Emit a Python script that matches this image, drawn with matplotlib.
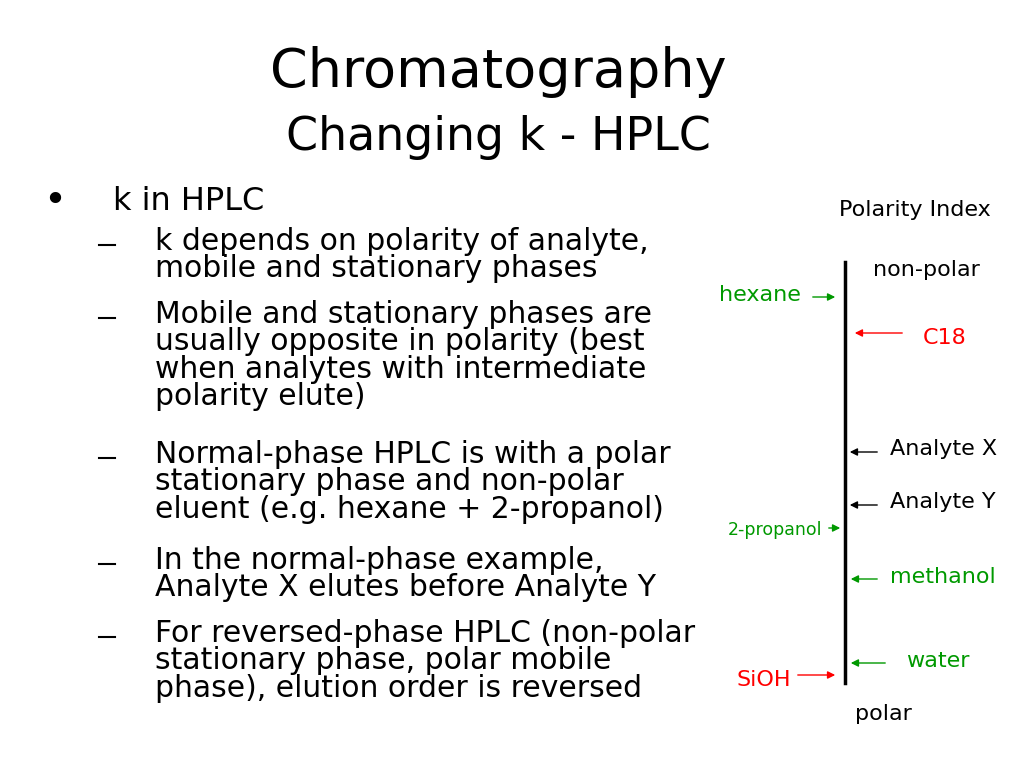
import matplotlib.pyplot as plt

title = "Chromatography"
subtitle = "Changing k - HPLC"
bullet = "k in HPLC"
sub_items = [
    "k depends on polarity of analyte,\nmobile and stationary phases",
    "Mobile and stationary phases are\nusually opposite in polarity (best\nwhen analytes with intermediate\npolarity elute)",
    "Normal-phase HPLC is with a polar\nstationary phase and non-polar\neluent (e.g. hexane + 2-propanol)",
    "In the normal-phase example,\nAnalyte X elutes before Analyte Y",
    "For reversed-phase HPLC (non-polar\nstationary phase, polar mobile\nphase), elution order is reversed",
]
sub_y = [245, 318, 458, 564, 637]

# right diagram: label, label x, label y, arrow start x, arrow end x, arrow y, colour, size, ha
marker_labels = ["hexane", "C18", "Analyte X", "Analyte Y", "2-propanol", "methanol", "water", "SiOH"]
marker_tx = [801, 945, 890, 890, 822, 890, 938, 791]
marker_ty = [295, 338, 449, 502, 530, 577, 661, 680]
arrow_from = [810, 905, 880, 880, 826, 880, 888, 795]
arrow_to = [838, 852, 847, 847, 843, 848, 848, 838]
arrow_y = [297, 333, 452, 505, 528, 579, 663, 675]
marker_colors = ["#009900", "#ff0000", "black", "black", "#009900", "#009900", "#009900", "#ff0000"]
marker_sizes = [16, 16, 16, 16, 12.5, 16, 16, 16]
marker_ha = ["right", "center", "left", "left", "right", "left", "center", "right"]

fig = plt.figure(figsize=(10.24, 7.68), dpi=100)
ax = fig.add_axes([0, 0, 1, 1])
ax.set_xlim(0, 1024)
ax.set_ylim(768, 0)
ax.axis("off")
font = "DejaVu Sans"

ax.text(498, 72, title, ha="center", va="center", fontsize=39, family=font)
ax.text(498, 138, subtitle, ha="center", va="center", fontsize=33, family=font)
ax.text(55, 201, "•", ha="center", va="center", fontsize=28, family=font)
ax.text(113, 201, bullet, ha="left", va="center", fontsize=23, family=font)
for txt, y in zip(sub_items, sub_y):
    ax.plot([99, 115], [y, y], color="black", lw=1.5)
    ax.text(155, y - 18, txt, ha="left", va="top", fontsize=21.5, family=font,
            linespacing=0.93)

ax.text(915, 210, "Polarity Index", ha="center", va="center", fontsize=16, family=font)
ax.text(926, 270, "non-polar", ha="center", va="center", fontsize=16, family=font)
ax.text(883, 714, "polar", ha="center", va="center", fontsize=16, family=font)
ax.plot([845, 845], [262, 683], color="black", lw=2.5)

for lab, tx, ty, x0, x1, ay, c, s, ha in zip(marker_labels, marker_tx, marker_ty, arrow_from,
                                             arrow_to, arrow_y, marker_colors, marker_sizes, marker_ha):
    ax.text(tx, ty, lab, ha=ha, va="center", fontsize=s, color=c, family=font)
    ax.annotate("", xy=(x1, ay), xytext=(x0, ay),
                arrowprops=dict(arrowstyle="-|>", color=c, lw=1, mutation_scale=11))

fig.savefig("out.png", dpi=100, facecolor="white")
